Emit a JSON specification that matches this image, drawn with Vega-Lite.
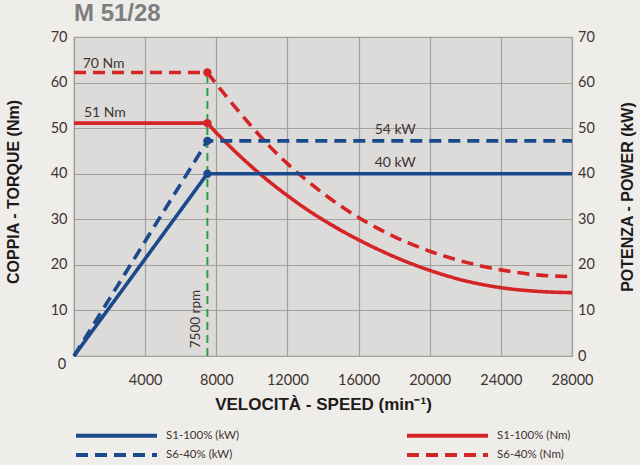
{
  "$schema": "https://vega.github.io/schema/vega-lite/v6.json",
  "autosize": {"type": "none"},
  "width": 498,
  "height": 319,
  "padding": {"left": 74, "top": 37, "right": 68, "bottom": 109},
  "background": "#efedea",
  "title": {
    "text": "M 51/28",
    "anchor": "start",
    "frame": "group",
    "font": "Liberation Sans",
    "fontSize": 24,
    "fontWeight": "bold",
    "color": "#7c7e80",
    "offset": 3
  },
  "config": {
    "view": {"fill": "#dcdbd9", "stroke": "#9e9b99", "strokeWidth": 1.2},
    "axis": {
      "domain": false,
      "ticks": false,
      "labelFlush": false,
      "gridColor": "#a3a09e",
      "gridWidth": 1.2,
      "gridOpacity": 1,
      "labelFont": "Lato",
      "labelFontSize": 14.5,
      "labelColor": "#3d3431",
      "titleFont": "Liberation Sans",
      "titleFontWeight": "bold",
      "titleFontSize": 16,
      "titleColor": "#1e1a19"
    }
  },
  "datasets": {
    "torque": [
      {"speed": 0, "value": 51.1, "series": "S1-100% (Nm)", "seg": "flat"},
      {"speed": 7500, "value": 51.1, "series": "S1-100% (Nm)", "seg": "flat"},
      {"speed": 7500, "value": 51.1, "series": "S1-100% (Nm)", "seg": "curve"},
      {"speed": 8000, "value": 49.0, "series": "S1-100% (Nm)", "seg": "curve"},
      {"speed": 9000, "value": 45.1, "series": "S1-100% (Nm)", "seg": "curve"},
      {"speed": 10000, "value": 41.5, "series": "S1-100% (Nm)", "seg": "curve"},
      {"speed": 11000, "value": 38.2, "series": "S1-100% (Nm)", "seg": "curve"},
      {"speed": 12000, "value": 35.2, "series": "S1-100% (Nm)", "seg": "curve"},
      {"speed": 13000, "value": 32.4, "series": "S1-100% (Nm)", "seg": "curve"},
      {"speed": 14000, "value": 29.9, "series": "S1-100% (Nm)", "seg": "curve"},
      {"speed": 15000, "value": 27.6, "series": "S1-100% (Nm)", "seg": "curve"},
      {"speed": 16000, "value": 25.5, "series": "S1-100% (Nm)", "seg": "curve"},
      {"speed": 18000, "value": 21.8, "series": "S1-100% (Nm)", "seg": "curve"},
      {"speed": 20000, "value": 18.8, "series": "S1-100% (Nm)", "seg": "curve"},
      {"speed": 22000, "value": 16.5, "series": "S1-100% (Nm)", "seg": "curve"},
      {"speed": 24000, "value": 15.0, "series": "S1-100% (Nm)", "seg": "curve"},
      {"speed": 26000, "value": 14.2, "series": "S1-100% (Nm)", "seg": "curve"},
      {"speed": 28000, "value": 13.9, "series": "S1-100% (Nm)", "seg": "curve"},
      {"speed": 0, "value": 62.2, "series": "S6-40% (Nm)", "seg": "flat"},
      {"speed": 7500, "value": 62.2, "series": "S6-40% (Nm)", "seg": "flat"},
      {"speed": 7500, "value": 62.2, "series": "S6-40% (Nm)", "seg": "curve"},
      {"speed": 8000, "value": 59.7, "series": "S6-40% (Nm)", "seg": "curve"},
      {"speed": 9000, "value": 54.9, "series": "S6-40% (Nm)", "seg": "curve"},
      {"speed": 10000, "value": 50.3, "series": "S6-40% (Nm)", "seg": "curve"},
      {"speed": 11000, "value": 46.0, "series": "S6-40% (Nm)", "seg": "curve"},
      {"speed": 12000, "value": 42.2, "series": "S6-40% (Nm)", "seg": "curve"},
      {"speed": 13000, "value": 38.8, "series": "S6-40% (Nm)", "seg": "curve"},
      {"speed": 14000, "value": 35.7, "series": "S6-40% (Nm)", "seg": "curve"},
      {"speed": 15000, "value": 32.9, "series": "S6-40% (Nm)", "seg": "curve"},
      {"speed": 16000, "value": 30.4, "series": "S6-40% (Nm)", "seg": "curve"},
      {"speed": 18000, "value": 26.2, "series": "S6-40% (Nm)", "seg": "curve"},
      {"speed": 20000, "value": 23.0, "series": "S6-40% (Nm)", "seg": "curve"},
      {"speed": 22000, "value": 20.6, "series": "S6-40% (Nm)", "seg": "curve"},
      {"speed": 24000, "value": 18.9, "series": "S6-40% (Nm)", "seg": "curve"},
      {"speed": 26000, "value": 17.8, "series": "S6-40% (Nm)", "seg": "curve"},
      {"speed": 28000, "value": 17.4, "series": "S6-40% (Nm)", "seg": "curve"}
    ],
    "power": [
      {"speed": 0, "value": 0, "series": "S1-100% (kW)"},
      {"speed": 7500, "value": 40.0, "series": "S1-100% (kW)"},
      {"speed": 28000, "value": 40.0, "series": "S1-100% (kW)"},
      {"speed": 0, "value": 0, "series": "S6-40% (kW)"},
      {"speed": 7500, "value": 47.2, "series": "S6-40% (kW)"},
      {"speed": 28000, "value": 47.2, "series": "S6-40% (kW)"}
    ],
    "guide": [
      {"speed": 7500, "value": 0, "top": 62.2}
    ],
    "torqueNotes": [
      {"speed": 490, "value": 63.3, "label": "70 Nm"},
      {"speed": 560, "value": 52.4, "label": "51 Nm"}
    ],
    "powerNotes": [
      {"speed": 18060, "value": 48.8, "label": "54 kW"},
      {"speed": 18060, "value": 41.4, "label": "40 kW"}
    ],
    "rpmNote": [
      {"speed": 7090, "value": 1.7, "label": "7500 rpm"}
    ],
    "origin": [
      {"speed": 0, "value": 0, "label": "0"}
    ]
  },
  "layer": [
    {
      "layer": [
        {
          "data": {"name": "guide"},
          "mark": {"type": "rule", "color": "#2e9e45", "strokeWidth": 2, "strokeDash": [8, 5]},
          "encoding": {
            "x": {
              "field": "speed",
              "type": "quantitative",
              "scale": {"domain": [0, 28000], "nice": false},
              "axis": {
                "values": [0, 4000, 8000, 12000, 16000, 20000, 24000, 28000],
                "labelExpr": "datum.value == 0 ? '' : datum.value",
                "labelPadding": 17,
                "grid": true,
                "title": "VELOCITÀ - SPEED (min⁻¹)",
                "titleFontSize": 17,
                "titleY": 48,
                "titleBaseline": "middle"
              }
            },
            "y": {
              "field": "value",
              "type": "quantitative",
              "scale": {"domain": [0, 70], "nice": false},
              "axis": {
                "orient": "left",
                "values": [0, 10, 20, 30, 40, 50, 60, 70],
                "labelExpr": "datum.value == 0 ? '' : datum.value",
                "labelPadding": 7,
                "grid": true,
                "title": "COPPIA - TORQUE (Nm)",
                "titleAngle": 270,
                "titleX": -60.7,
                "titleY": 154.5,
                "titleAlign": "center",
                "titleBaseline": "middle"
              }
            },
            "y2": {"field": "top"}
          }
        },
        {
          "data": {"name": "torque"},
          "mark": {"type": "line", "strokeWidth": 3.6, "interpolate": "monotone"},
          "encoding": {
            "x": {"field": "speed", "type": "quantitative"},
            "y": {"field": "value", "type": "quantitative"},
            "detail": {"field": "seg"},
            "color": {
              "field": "series",
              "type": "nominal",
              "scale": {
                "domain": ["S1-100% (kW)", "S6-40% (kW)", "S1-100% (Nm)", "S6-40% (Nm)"],
                "range": ["#1b4a8c", "#1b4a8c", "#d42426", "#d42426"]
              },
              "legend": {
                "title": null,
                "orient": "none",
                "legendX": 0,
                "legendY": 391.7,
                "columns": 2,
                "gridAlign": "all",
                "columnPadding": 165,
                "rowPadding": 5.3,
                "clipHeight": 14,
                "symbolType": "stroke",
                "symbolSize": 6561,
                "symbolStrokeWidth": 4,
                "labelFont": "Lato",
                "labelFontSize": 11.5,
                "labelColor": "#3d3431",
                "labelOffset": 7
              }
            },
            "strokeDash": {
              "field": "series",
              "type": "nominal",
              "scale": {
                "domain": ["S1-100% (kW)", "S6-40% (kW)", "S1-100% (Nm)", "S6-40% (Nm)"],
                "range": [[1, 0], [12, 7], [1, 0], [12, 7]]
              }
            }
          }
        },
        {
          "data": {"name": "torque"},
          "transform": [{"filter": "datum.seg == 'flat' && datum.speed == 7500"}],
          "mark": {"type": "point", "filled": true, "size": 70, "opacity": 1, "color": "#d42426"},
          "encoding": {
            "x": {"field": "speed", "type": "quantitative"},
            "y": {"field": "value", "type": "quantitative"}
          }
        },
        {
          "data": {"name": "torqueNotes"},
          "mark": {"type": "text", "align": "left", "baseline": "alphabetic", "font": "Lato", "fontSize": 14, "color": "#3d3431"},
          "encoding": {
            "x": {"field": "speed", "type": "quantitative"},
            "y": {"field": "value", "type": "quantitative"},
            "text": {"field": "label"}
          }
        },
        {
          "data": {"name": "rpmNote"},
          "mark": {"type": "text", "align": "left", "baseline": "alphabetic", "angle": 270, "font": "Lato", "fontSize": 13.5, "color": "#3d3431"},
          "encoding": {
            "x": {"field": "speed", "type": "quantitative"},
            "y": {"field": "value", "type": "quantitative"},
            "text": {"field": "label"}
          }
        },
        {
          "data": {"name": "origin"},
          "mark": {"type": "text", "align": "center", "baseline": "middle", "dx": -12, "dy": 9, "font": "Lato", "fontSize": 14.5, "color": "#3d3431"},
          "encoding": {
            "x": {"field": "speed", "type": "quantitative"},
            "y": {"field": "value", "type": "quantitative"},
            "text": {"field": "label"}
          }
        }
      ]
    },
    {
      "layer": [
        {
          "data": {"name": "power"},
          "mark": {"type": "line", "strokeWidth": 3.6},
          "encoding": {
            "x": {"field": "speed", "type": "quantitative"},
            "y": {
              "field": "value",
              "type": "quantitative",
              "scale": {"domain": [0, 70], "nice": false},
              "axis": {
                "orient": "right",
                "values": [0, 10, 20, 30, 40, 50, 60, 70],
                "labelPadding": 5.5,
                "grid": false,
                "title": "POTENZA - POWER (kW)",
                "titleAngle": 270,
                "titleX": 55.8,
                "titleY": 159.5,
                "titleAlign": "center",
                "titleBaseline": "middle"
              }
            },
            "color": {
              "field": "series",
              "type": "nominal",
              "scale": {
                "domain": ["S1-100% (kW)", "S6-40% (kW)", "S1-100% (Nm)", "S6-40% (Nm)"],
                "range": ["#1b4a8c", "#1b4a8c", "#d42426", "#d42426"]
              }
            },
            "strokeDash": {
              "field": "series",
              "type": "nominal",
              "scale": {
                "domain": ["S1-100% (kW)", "S6-40% (kW)", "S1-100% (Nm)", "S6-40% (Nm)"],
                "range": [[1, 0], [12, 7], [1, 0], [12, 7]]
              }
            }
          }
        },
        {
          "data": {"name": "power"},
          "transform": [{"filter": "datum.speed == 7500"}],
          "mark": {"type": "point", "filled": true, "size": 70, "opacity": 1, "color": "#1b4a8c"},
          "encoding": {
            "x": {"field": "speed", "type": "quantitative"},
            "y": {"field": "value", "type": "quantitative"}
          }
        },
        {
          "data": {"name": "powerNotes"},
          "mark": {"type": "text", "align": "center", "baseline": "alphabetic", "font": "Lato", "fontSize": 14, "color": "#3d3431"},
          "encoding": {
            "x": {"field": "speed", "type": "quantitative"},
            "y": {"field": "value", "type": "quantitative"},
            "text": {"field": "label"}
          }
        }
      ]
    }
  ],
  "resolve": {"scale": {"y": "independent"}}
}
